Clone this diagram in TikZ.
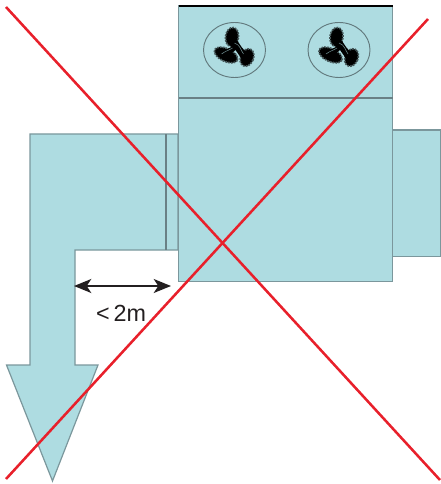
\documentclass[tikz,border=0pt]{standalone}
\usepackage{fontspec}
\setmainfont{Liberation Sans}
\usetikzlibrary{arrows.meta}
\definecolor{duct}{HTML}{AEDCE1}
\definecolor{edgeline}{HTML}{7B979C}
\definecolor{crossred}{HTML}{E8202B}
\definecolor{darktext}{HTML}{231F20}
\tikzset{
  x=0.75pt,y=-0.75pt,
  ductbox/.style={fill=duct,draw=edgeline,line width=0.9pt,line join=miter},
  inner/.style={draw=edgeline!85!black,line width=0.9pt},
  cross/.style={draw=crossred,line width=1.9pt},
  dim/.style={draw=darktext,line width=1.5pt,{Stealth[length=13pt,width=10.5pt,inset=3.5pt]}-{Stealth[length=13pt,width=10.5pt,inset=3.5pt]}},
  ring/.style={draw=edgeline!80!black,line width=0.7pt,fill=duct},
  blade/.style={fill=black,draw=black!60!duct,line width=1.3pt,dash pattern=on 1.3pt off 0.8pt},
  pics/fan/.style={code={
    \draw[ring] (0,0) ellipse[x radius=31,y radius=27.5];
    \draw[blade] (-2.5,-13) ellipse[x radius=6.5,y radius=9.5,rotate=-8];
    \draw[blade] (-8.5,5) ellipse[x radius=12.5,y radius=6.5,rotate=-25];
    \draw[blade] (12.5,7.5) ellipse[x radius=6.5,y radius=9,rotate=-22];
    \fill[black] (-7,-9) -- (3,-9) -- (7,-3) -- (13,4) -- (8,10) -- (1,0) -- (-8,7) -- (-11,1) -- (-3,-3) -- cycle;
    \draw[black!35!duct,line width=0.4pt] (0,-7) .. controls (6,-5) and (6,0) .. (9,4);
    \draw[black!35!duct,line width=0.4pt] (-13,4) .. controls (-9,1) and (-5,0) .. (-2,-2);
  }}
}
\begin{document}
\begin{tikzpicture}
\useasboundingbox (0,0) rectangle (441,484);
% right box
\path[ductbox] (392,130) rectangle (440.5,256.5);
% duct with arrow
\path[ductbox] (178,134) -- (30,134) -- (30,365) -- (6.5,365) -- (52.5,481) -- (98,365) -- (75,365) -- (75,250) -- (178,250) -- cycle;
\draw[inner] (166,134) -- (166,250);
% main box
\path[ductbox] (178.5,6) rectangle (392.5,281.5);
\draw[black,line width=1pt] (178.5,6) -- (392.5,6);
\draw[inner] (178.5,98) -- (392.5,98);
% fans
\pic at (234.5,50) {fan};
\pic at (339,50) {fan};
% dimension
\coordinate (dimL) at (74,286);
\coordinate (dimR) at (171,286);
\draw[dim] (dimL) -- (dimR);
\node[text=darktext,font=\fontsize{17.5}{20}\selectfont,inner sep=0pt] (lbl) at (121,313) {<\,2m};
% red cross
\coordinate (a1) at (6,479);
\coordinate (a2) at (428,19);
\coordinate (b1) at (6,7);
\coordinate (b2) at (440,480);
\draw[cross] (a1) -- (a2);
\draw[cross] (b1) -- (b2);
\end{tikzpicture}
\end{document}
